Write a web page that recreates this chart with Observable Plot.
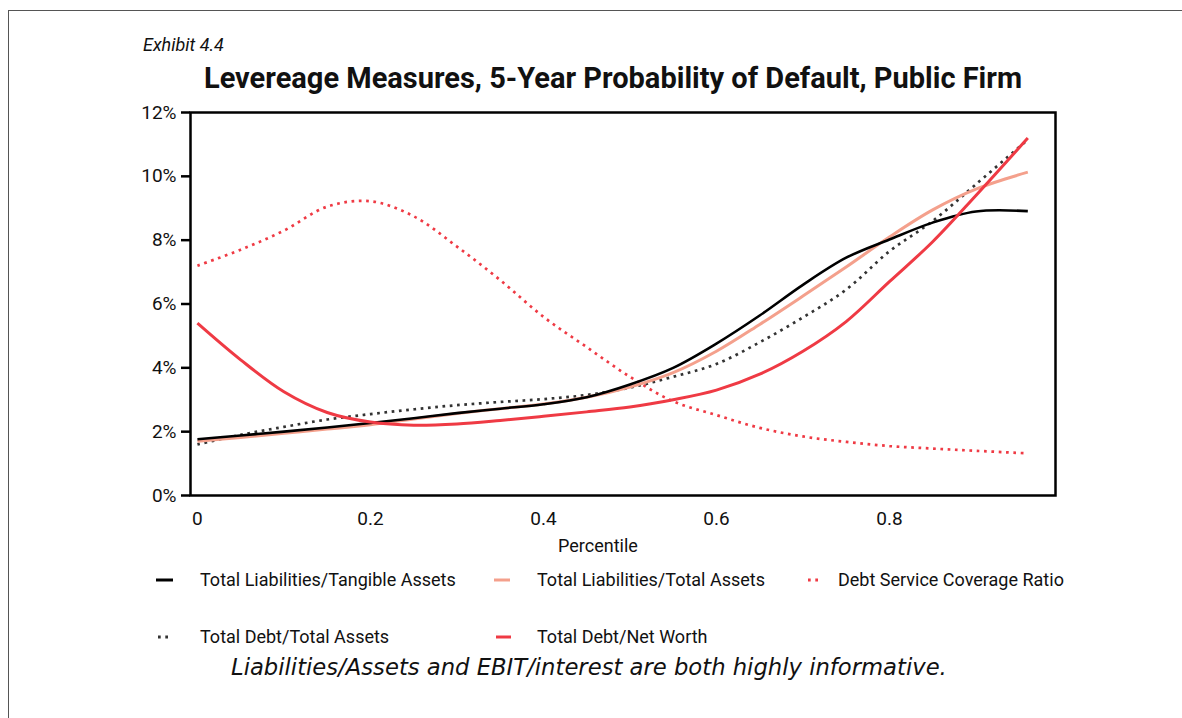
<!DOCTYPE html>
<html><head><meta charset="utf-8">
<script src="https://cdn.jsdelivr.net/npm/d3@7"></script>
<script src="https://cdn.jsdelivr.net/npm/@observablehq/plot@0.6"></script>
<style>
body{margin:0;background:#fff;}
#wrap{position:relative;width:1182px;height:718px;overflow:hidden;font-family:Roboto,"Liberation Sans",Arial,sans-serif;color:#111;}
#border{position:absolute;left:8px;top:10px;width:1200px;height:720px;border-left:1.5px solid #555;border-top:1.5px solid #555;}
.abs{position:absolute;white-space:nowrap;}
#exhibit{left:143px;top:34px;font-size:18px;font-style:italic;}
#title{left:0;width:1226px;text-align:center;top:61px;font-size:29px;font-weight:bold;}
#plot{position:absolute;left:0;top:100px;}
#xlabel{left:0;width:1196px;text-align:center;top:535px;font-size:18px;}
.leg{position:absolute;left:0;width:1182px;height:22px;font-size:18px;line-height:22px;}
.leg svg{position:absolute;top:0;}
.leg span{position:absolute;top:0;white-space:nowrap;}
#caption{left:231px;top:654px;font-family:"DejaVu Sans",sans-serif;font-style:italic;font-size:22.7px;}
</style>
</head><body>
<div id="wrap">
<div id="border"></div>
<div id="exhibit" class="abs">Exhibit 4.4</div>
<div id="title" class="abs">Levereage Measures, 5-Year Probability of Default, Public Firm</div>
<div id="plot"></div>
<div id="xlabel" class="abs">Percentile</div>
<div id="legend"></div>
<div id="caption" class="abs">Liabilities/Assets and EBIT/interest are both highly informative.</div>
</div>
<script>
// Percentile grid (x)
const percentile = [0, 0.05, 0.1, 0.15, 0.2, 0.25, 0.3, 0.35, 0.4, 0.45, 0.5, 0.55, 0.6, 0.65, 0.7, 0.75, 0.8, 0.85, 0.9, 0.96];
// 5-year probability of default, %
const tlTangibleAssets = [1.76, 1.88, 2.0, 2.13, 2.27, 2.42, 2.58, 2.72, 2.86, 3.08, 3.48, 4.0, 4.76, 5.64, 6.6, 7.45, 8.02, 8.55, 8.9, 8.91];
const tlTotalAssets    = [1.7, 1.82, 1.95, 2.08, 2.22, 2.4, 2.57, 2.72, 2.87, 3.08, 3.4, 3.85, 4.52, 5.36, 6.25, 7.16, 8.1, 8.95, 9.6, 10.13];
const debtServiceCov   = [7.2, 7.7, 8.3, 9.05, 9.22, 8.75, 7.8, 6.75, 5.6, 4.65, 3.72, 2.95, 2.52, 2.12, 1.85, 1.68, 1.55, 1.47, 1.4, 1.32];
const tdTotalAssets    = [1.6, 1.9, 2.15, 2.38, 2.55, 2.7, 2.83, 2.93, 3.02, 3.15, 3.38, 3.72, 4.12, 4.8, 5.58, 6.45, 7.65, 8.6, 9.75, 11.15];
const tdNetWorth       = [5.4, 4.25, 3.25, 2.6, 2.3, 2.2, 2.24, 2.35, 2.48, 2.62, 2.77, 3.0, 3.3, 3.8, 4.52, 5.45, 6.7, 7.95, 9.4, 11.2];

const seriesNames = ["Total Liabilities/Tangible Assets", "Total Liabilities/Total Assets", "Debt Service Coverage Ratio", "Total Debt/Total Assets", "Total Debt/Net Worth"];
const seriesValues = [tlTangibleAssets, tlTotalAssets, debtServiceCov, tdTotalAssets, tdNetWorth];
const seriesColors = ["#000000", "#f4a08c", "#ef3a44", "#333333", "#ef3a44"];
const seriesWidth = [2.6, 3, 2.7, 2.7, 3];
const seriesDash = [null, null, "2.7,4.6", "2.7,4.6", null];
const drawOrder = [2, 3, 1, 0, 4];

const xTicks = [0, 0.2, 0.4, 0.6, 0.8];
const yTicks = [0, 2, 4, 6, 8, 10, 12];

const rows = seriesNames.flatMap((s, i) => percentile.map((p, j) => ({series: s, x: p, y: seriesValues[i][j]})));

const marks = drawOrder.map(i => Plot.line(rows.filter(r => r.series === seriesNames[i]), {
  x: "x", y: "y", stroke: seriesColors[i], strokeWidth: seriesWidth[i],
  strokeDasharray: seriesDash[i] || undefined, curve: "catmull-rom", strokeLinecap: "butt"
}));

const chart = Plot.plot({
  width: 1182, height: 460,
  marginTop: 12, marginBottom: 65, marginLeft: 190, marginRight: 127,
  style: {fontFamily: "Roboto,'Liberation Sans',Arial,sans-serif", fontSize: "18px", color: "#111", background: "transparent"},
  x: {domain: [-0.008, 0.992]},
  y: {domain: [0, 12]},
  marks: [
    ...marks,
    Plot.axisY({ticks: yTicks, tickFormat: d => d + "%", tickSize: 9, tickPadding: 5, strokeWidth: 2.5, fontSize: 19, label: null, stroke: "#000"}),
    Plot.axisX({ticks: xTicks, tickFormat: d => String(d), tickSize: 0, tickPadding: 16, fontSize: 19, label: null}),
    Plot.frame({stroke: "#000", strokeWidth: 2.5})
  ]
});
document.getElementById("plot").appendChild(chart);

// Legend layout: [swatch left, swatch right, text left, top]
const legendLayout = [[156, 173, 200, 569], [494, 510, 537, 569], [808, 822, 838, 569], [158, 172, 200, 626], [496, 511, 537, 626]];
const leg = document.getElementById("legend");
seriesNames.forEach((s, i) => {
  const [sx0, sx1, tx, ty] = legendLayout[i];
  const d = document.createElement("div");
  d.className = "leg";
  d.style.top = ty + "px";
  const dash = seriesDash[i] ? `stroke-dasharray="${seriesDash[i]}"` : "";
  d.innerHTML = `<svg width="30" height="22" style="left:${sx0}px"><line x1="0" x2="${sx1 - sx0}" y1="11" y2="11" stroke="${seriesColors[i]}" stroke-width="3" ${dash}/></svg><span style="left:${tx}px">${s}</span>`;
  leg.appendChild(d);
});
</script>
</body></html>
